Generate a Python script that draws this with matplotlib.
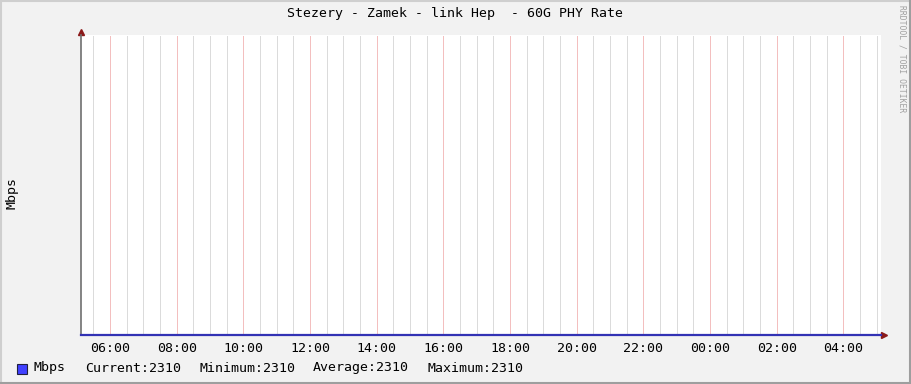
import matplotlib
matplotlib.use("Agg")
import matplotlib.pyplot as plt
from matplotlib.patches import Rectangle

# data (hours since midnight of first day, value in Mbps)
hours = [5.13, 7, 9, 11, 13, 15, 17, 19, 21, 23, 25, 27, 29.13]
mbps = [2310, 2310, 2310, 2310, 2310, 2310, 2310, 2310, 2310, 2310, 2310, 2310, 2310]
tick_hours = [6, 8, 10, 12, 14, 16, 18, 20, 22, 24, 26, 28]
tick_labels = ["06:00", "08:00", "10:00", "12:00", "14:00", "16:00",
               "18:00", "20:00", "22:00", "00:00", "02:00", "04:00"]
legend_items = ["Current:2310", "Minimum:2310", "Average:2310", "Maximum:2310"]
title = "Stezery - Zamek - link Hep  - 60G PHY Rate"

mono = "DejaVu Sans Mono"
W, H = 911, 384
fig = plt.figure(figsize=(W / 100, H / 100), dpi=100, facecolor="#f2f2f2")

def fx(px):
    return px / W

def fy(py):
    return 1 - py / H

# frame of the image
fig.add_artist(plt.Line2D([0, 1], [fy(1), fy(1)], color="#cfcfcf", lw=1.5, transform=fig.transFigure))
fig.add_artist(plt.Line2D([fx(1), fx(1)], [0, 1], color="#cfcfcf", lw=1.5, transform=fig.transFigure))
fig.add_artist(plt.Line2D([0, 1], [fy(383), fy(383)], color="#9e9e9e", lw=1.5, transform=fig.transFigure))
fig.add_artist(plt.Line2D([fx(910), fx(910)], [0, 1], color="#9e9e9e", lw=1.5, transform=fig.transFigure))

x0, x1, y0, y1 = 81, 881, 35, 335
ax = fig.add_axes([fx(x0), fy(y1), (x1 - x0) / W, (y1 - y0) / H])
ax.set_facecolor("white")

ax.plot(hours, mbps, color="#3232b4", lw=1.6, clip_on=False, zorder=5)
ax.set_xlim(hours[0], hours[-1])
ax.set_ylim(2310, 2320)

ax.set_xticks(tick_hours)
ax.set_xticklabels(tick_labels, fontfamily=mono, fontsize=9.5, color="black")
# half-hour grid
minor = [h / 2 for h in range(11, 59) if h % 4 != 0]
ax.set_xticks(minor, minor=True)
ax.set_yticks([])
ax.tick_params(axis="x", which="both", length=0, pad=5)
ax.grid(which="minor", axis="x", color="#b8b8b8", lw=0.72, ls=(0, (1, 1)))
ax.grid(which="major", axis="x", color="#e88080", lw=0.72, ls=(0, (1, 1)))

for s in ["top", "right"]:
    ax.spines[s].set_visible(False)
ax.spines["left"].set_color("#707070")
ax.spines["bottom"].set_color("#707070")
ax.spines["left"].set_linewidth(1.2)
ax.spines["bottom"].set_linewidth(1.2)

# axis arrows
ax.plot([0], [1.01], marker="^", color="#8b1a1a", ms=4, transform=ax.transAxes, clip_on=False)
ax.plot([1.004], [0], marker=">", color="#8b1a1a", ms=4, transform=ax.transAxes, clip_on=False)

fig.text(fx(455), fy(14), title, ha="center", va="center", fontfamily=mono, fontsize=9.5)
fig.text(fx(12), fy(193), "Mbps", rotation=90, ha="center", va="center", fontfamily=mono, fontsize=9.5)
fig.text(fx(902), fy(5), "RRDTOOL / TOBI OETIKER", rotation=270, ha="center", va="top",
         fontfamily=mono, fontsize=5.8, color="#a0a0a0")

# legend
fig.add_artist(Rectangle((fx(17), fy(374)), 10 / W, 10 / H, facecolor="#4040ff",
                         edgecolor="#202040", lw=0.8, transform=fig.transFigure))
fig.text(fx(34), fy(368), "Mbps", ha="left", va="center", fontfamily=mono, fontsize=9.5)
for i, item in enumerate(legend_items):
    fig.text(fx(85 + 114 * i), fy(368), item, ha="left", va="center", fontfamily=mono, fontsize=9.5)

fig.savefig("out.png", dpi=100, facecolor=fig.get_facecolor())
